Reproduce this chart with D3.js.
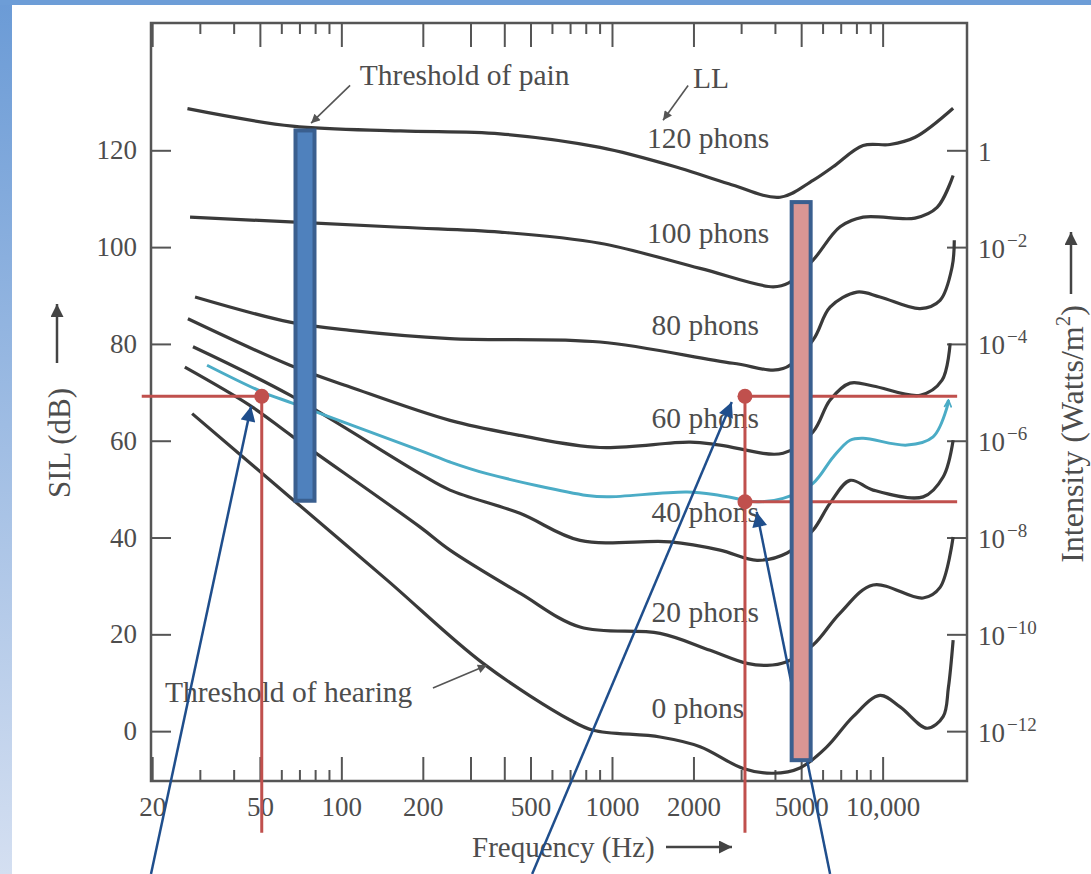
<!DOCTYPE html>
<html>
<head>
<meta charset="utf-8">
<script src="https://cdn.jsdelivr.net/npm/d3@7"></script>
<style>
body{margin:0;background:#fff;}
text{font-family:"Liberation Serif","DejaVu Serif",serif;fill:#4d4d4d;}
</style>
</head>
<body>
<svg id="svg" width="1091" height="874"></svg>
<script>
// equal loudness contours, [frequency Hz, SIL dB]
var phon120=[[27,128.6],[66,125],[165,124],[386,123.4],[903,120.6],[1786,116.3],[2700,113.1],[4180,110.3],[5530,113.8],[6560,116.6],[8470,121],[10650,121.2],[13180,122.7],[18220,128.7]];
var phon100=[[27.6,106.2],[165,104.1],[386,103.1],[903,100.8],[2116,95.6],[3938,91.8],[4500,92.6],[5530,97.3],[6964,104.2],[8470,106.2],[13180,106],[15900,108.2],[18220,114.8]];
var phon80=[[28.8,89.7],[64.6,84.5],[107.7,82.8],[252,81.1],[903,80.4],[2802,76],[4287,74.9],[5530,80.8],[6395,87.6],[8040,90.7],[9780,89.7],[13760,87.3],[16300,89],[18060,95.9],[18400,101.4]];
var phon60=[[27.1,85.2],[64.6,75.6],[107.7,71.1],[252,64.2],[457,61.1],[903,58.6],[1944,59.7],[2508,59.1],[4287,57.4],[5530,61.8],[6395,68.4],[7580,71.9],[9220,71.3],[13760,69.4],[16580,72.5],[17760,80.1]];
var phon40=[[28.3,79.4],[64.6,69.4],[195,53.2],[252,49.8],[457,45],[762,39.4],[1640,39.1],[2508,37.4],[3437,35.3],[4436,36.8],[5530,41.5],[6395,47.1],[7580,51.8],[9220,49.8],[14110,48.4],[16730,52.5],[18220,60.1]];
var phon20=[[26.4,75.2],[45.9,67.3],[66.3,60.8],[195,42.2],[252,37.4],[457,28.5],[762,21.5],[1505,20.2],[2305,16.7],[3156,14],[3740,13.6],[4400,14.3],[5530,17.8],[6964,24.4],[9220,30.2],[14110,27.5],[16300,29.7],[18220,40.1]];
var phon0=[[28.1,65.6],[68.6,47.1],[147.6,31.2],[334,14],[700,2.3],[851,0.2],[1505,-1.2],[2116,-3.2],[3051,-7.7],[3938,-8.7],[4950,-7.6],[6233,-3.2],[7776,3],[9780,7.4],[11600,5],[14600,0.6],[16730,3],[17500,9],[18220,18.8]];
var contours=[phon120,phon100,phon80,phon60,phon40,phon20,phon0];
var contourNames=["120 phons","100 phons","80 phons","60 phons","40 phons","20 phons","0 phons"];
var labelLevels=[120.4,100.8,81.8,62.6,43.2,22.6,2.7];
var labelFreqs=[1348,1348,1400,1400,1400,1400,1400];

// hand drawn teal contour
var tealCurve=[[31.9,75.6],[50.9,70.1],[66.3,67.7],[195,58],[252,55.6],[345,53.2],[809,48.7],[957,48.4],[1895,49.4],[2508,48.7],[3437,47.4],[4287,48.1],[5530,51.2],[6560,56.6],[7580,60.1],[8470,60.5],[12320,59.1],[15360,60.8],[17320,67],[17500,68.4]];

// bars: frequency, top dB, bottom dB
var bars=[{f:73.4,top:124.1,bottom:47.6,fill:"#4f81bd"},{f:5000,top:109.3,bottom:-6,fill:"#d99694"}];

// red reference points
var refFreq=[50.8,3100,3100];
var refLevel=[69.2,69.2,47.4];

// navy pointer arrows [from f, from dB, to f, to dB]
var pointers=[[19.8,-29.5,46.4,67.1],[507,-29.5,2771,68],[6395,-29.5,3426,45.3]];

// ticks
var yTicks=[0,20,40,60,80,100,120];
var xMajor=[20,50,100,200,300,400,500,1000,2000,5000,10000];
var xLabels=[20,50,100,200,500,1000,2000,5000,10000];
var xMinor=[30,40,60,70,80,90,600,700,800,900,3000,4000,6000,7000,8000,9000];

var svg=d3.select("#svg");
var defs=svg.append("defs");

// slide border
var grad=defs.append("linearGradient").attr("id","side").attr("x1",0).attr("y1",0).attr("x2",0).attr("y2",1);
grad.append("stop").attr("offset","0%").attr("stop-color","#6b9bd6");
grad.append("stop").attr("offset","100%").attr("stop-color","#d4dff1");
svg.append("rect").attr("x",0).attr("y",0).attr("width",12).attr("height",874).attr("fill","url(#side)");
svg.append("rect").attr("x",0).attr("y",0).attr("width",1091).attr("height",5).attr("fill","#6d9dd7");

function marker(id,color,w,h){
    defs.append("marker").attr("id",id)
        .attr("viewBox","0 0 10 10").attr("refX",10).attr("refY",5)
        .attr("markerUnits","userSpaceOnUse")
        .attr("markerWidth",w).attr("markerHeight",h)
        .attr("orient","auto")
      .append("path").attr("d","M0,0L10,5L0,10z").attr("fill",color);
}
marker("navy","#1f4e8c",17,15);
marker("gray","#555",12,9);
marker("dark","#444",16,13);
// small open tip for the teal line
defs.append("marker").attr("id","teal")
    .attr("viewBox","0 0 10 10").attr("refX",9).attr("refY",5)
    .attr("markerUnits","userSpaceOnUse")
    .attr("markerWidth",9).attr("markerHeight",9)
    .attr("orient","auto")
  .append("path").attr("d","M1,1L9,5L1,9").attr("fill","none")
    .attr("stroke","#4bacc6").attr("stroke-width",2);

var x=d3.scaleLog().domain([19.8,20500]).range([151,967]);
var y=d3.scaleLinear().domain([-10.3,146.3]).range([781,23]);

// axes
function styleAxis(g){
    g.select(".domain").remove();
    g.selectAll("line").attr("stroke","#555").attr("stroke-width",2);
    g.selectAll("text").style("font-size","27px").attr("fill","#4d4d4d")
        .style("font-family","Liberation Serif, serif");
}
svg.append("g").attr("transform","translate(151,0)")
    .call(d3.axisLeft(y).tickValues(yTicks).tickSizeInner(-20).tickSizeOuter(0).tickPadding(14))
    .call(styleAxis);

var right=svg.append("g").attr("transform","translate(967,0)")
    .call(d3.axisRight(y).tickValues(yTicks).tickSizeInner(-20).tickSizeOuter(0).tickPadding(11).tickFormat(""))
    .call(styleAxis);
right.selectAll(".tick").append("text")
    .attr("x",11).attr("y",10)
    .style("font-size","27px")
    .each(function(d){
        var t=d3.select(this);
        var e=(d-120)/10;
        if(e==0){t.text("1");return;}
        t.append("tspan").text("10");
        t.append("tspan").attr("dy",-11).attr("dx",2).style("font-size","19px").text("\u2212"+Math.abs(e));
    });

svg.append("g").attr("transform","translate(0,781)")
    .call(d3.axisBottom(x).tickValues(xMajor).tickSizeInner(-24).tickSizeOuter(0).tickPadding(16)
        .tickFormat(function(d){return xLabels.indexOf(d)<0?"":(d==10000?"10,000":d);}))
    .call(styleAxis);
svg.append("g").attr("transform","translate(0,781)")
    .call(d3.axisBottom(x).tickValues(xMinor).tickSizeInner(-11).tickSizeOuter(0).tickFormat(""))
    .call(styleAxis);
svg.append("g").attr("transform","translate(0,23)")
    .call(d3.axisTop(x).tickValues(xMajor).tickSizeInner(-24).tickSizeOuter(0).tickFormat(""))
    .call(styleAxis);
svg.append("g").attr("transform","translate(0,23)")
    .call(d3.axisTop(x).tickValues(xMinor).tickSizeInner(-11).tickSizeOuter(0).tickFormat(""))
    .call(styleAxis);

// frame
svg.append("rect")
    .attr("x",x.range()[0]).attr("y",y.range()[1])
    .attr("width",x.range()[1]-x.range()[0]).attr("height",y.range()[0]-y.range()[1])
    .attr("fill","none").attr("stroke","#555").attr("stroke-width",2.5);

// axis titles
svg.append("text").attr("transform","translate(70,443) rotate(-90)")
    .attr("text-anchor","middle").style("font-size","31px").text("SIL (dB)");
svg.append("line").attr("x1",57).attr("y1",363).attr("x2",57).attr("y2",304)
    .attr("stroke","#444").attr("stroke-width",2.5).attr("marker-end","url(#dark)");

var it=svg.append("text").attr("transform","translate(1083,434) rotate(-90)")
    .attr("text-anchor","middle").style("font-size","32px");
it.append("tspan").text("Intensity (Watts/m");
it.append("tspan").attr("dy",-13).style("font-size","21px").text("2");
it.append("tspan").attr("dy",13).text(")");
svg.append("line").attr("x1",1071).attr("y1",294).attr("x2",1071).attr("y2",232)
    .attr("stroke","#444").attr("stroke-width",2.5).attr("marker-end","url(#dark)");

svg.append("text").attr("x",472).attr("y",857).style("font-size","29px").text("Frequency (Hz)");
svg.append("line").attr("x1",666).attr("y1",847).attr("x2",732).attr("y2",847)
    .attr("stroke","#444").attr("stroke-width",2.5).attr("marker-end","url(#dark)");

// contours
var line=d3.line().x(d=>x(d[0])).y(d=>y(d[1])).curve(d3.curveCatmullRom.alpha(0.5));
svg.selectAll(".contour")
    .data(contours).enter().append("path")
        .attr("class","contour")
        .attr("d",line)
        .attr("fill","none")
        .attr("stroke","#3a3a3a")
        .attr("stroke-width",3.2);

// labels
svg.selectAll(".phon")
    .data(contourNames).enter().append("text")
        .attr("class","phon")
        .attr("x",(d,i)=>x(labelFreqs[i]))
        .attr("y",(d,i)=>y(labelLevels[i]))
        .style("font-size","29.5px")
        .text(d=>d);

svg.append("text").attr("x",x(117)).attr("y",y(133.4)).style("font-size","29.5px").text("Threshold of pain");
svg.append("text").attr("x",x(1994)).attr("y",y(132.8)).style("font-size","29.5px").text("LL");
svg.append("text").attr("x",x(22.3)).attr("y",y(6.05)).style("font-size","29.5px").text("Threshold of hearing");

// leader arrows
var leaders=[[107.7,133.4,77.3,125.6],[1911,133.4,1544,126.2],[218,8.9,345,13.6]];
svg.selectAll(".leader")
    .data(leaders).enter().append("line")
        .attr("class","leader")
        .attr("x1",d=>x(d[0])).attr("y1",d=>y(d[1]))
        .attr("x2",d=>x(d[2])).attr("y2",d=>y(d[3]))
        .attr("stroke","#555").attr("stroke-width",1.6)
        .attr("marker-end","url(#gray)");

// teal contour
svg.append("path").datum(tealCurve)
    .attr("d",line).attr("fill","none")
    .attr("stroke","#4bacc6").attr("stroke-width",3)
    .attr("marker-end","url(#teal)");

// red reference lines
var red="#c0504d";
svg.append("line").attr("x1",x(18.3)).attr("x2",x(refFreq[0])).attr("y1",y(refLevel[0])).attr("y2",y(refLevel[0]))
    .attr("stroke",red).attr("stroke-width",3);
svg.selectAll(".refh")
    .data([1,2]).enter().append("line")
        .attr("class","refh")
        .attr("x1",i=>x(refFreq[i])).attr("x2",x(18850))
        .attr("y1",i=>y(refLevel[i])).attr("y2",i=>y(refLevel[i]))
        .attr("stroke",red).attr("stroke-width",3);
svg.selectAll(".refv")
    .data([0,1]).enter().append("line")
        .attr("class","refv")
        .attr("x1",i=>x(refFreq[i])).attr("x2",i=>x(refFreq[i]))
        .attr("y1",i=>y(refLevel[i])).attr("y2",y(-21))
        .attr("stroke",red).attr("stroke-width",3);
svg.selectAll(".refdot")
    .data(refFreq).enter().append("circle")
        .attr("class","refdot")
        .attr("cx",d=>x(d))
        .attr("cy",(d,i)=>y(refLevel[i]))
        .attr("r",7.5)
        .attr("fill",red);

// pointers
svg.selectAll(".pointer")
    .data(pointers).enter().append("line")
        .attr("class","pointer")
        .attr("x1",d=>x(d[0])).attr("y1",d=>y(d[1]))
        .attr("x2",d=>x(d[2])).attr("y2",d=>y(d[3]))
        .attr("stroke","#1f4e8c").attr("stroke-width",2.5)
        .attr("marker-end","url(#navy)");

// bars on top
svg.selectAll(".bar")
    .data(bars).enter().append("rect")
        .attr("class","bar")
        .attr("x",d=>x(d.f)-9.5)
        .attr("width",19)
        .attr("y",d=>y(d.top))
        .attr("height",d=>y(d.bottom)-y(d.top))
        .attr("fill",d=>d.fill)
        .attr("stroke","#3a5f8f")
        .attr("stroke-width",4);
</script>
</body>
</html>
